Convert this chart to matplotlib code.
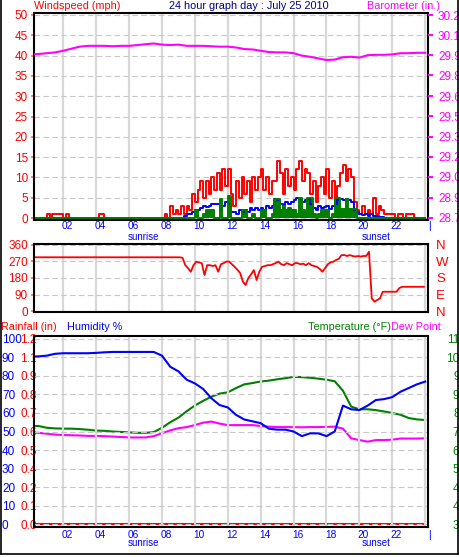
import numpy as np
import matplotlib.pyplot as plt
from matplotlib.transforms import ScaledTranslation
from matplotlib.lines import Line2D

W, H = 459, 557
plt.rcParams['font.family'] = ['Liberation Sans Narrow', 'Liberation Sans', 'DejaVu Sans']

# ---- data -------------------------------------------------------------
# 10 minute samples, 144 per day
wind_gust = [
    0, 0, 0, 0, 0, 0, 1, 0, 1, 1, 1, 1,
    0, 1, 0, 0, 0, 0, 0, 0, 0, 0, 0, 0,
    0, 1, 1, 0, 0, 0, 0, 0, 0, 0, 0, 0,
    0, 0, 0, 0, 0, 0, 0, 0, 0, 0, 0, 0,
    0, 1, 0, 3, 1, 2, 1, 3, 1, 3, 2, 6,
    4, 7, 9, 5, 9, 6, 10, 7, 11, 7, 12, 8,
    12, 6, 3, 9, 5, 10, 6, 9, 4, 10, 7, 10,
    12, 7, 10, 6, 9, 9, 14, 11, 6, 12, 8, 10,
    7, 12, 14, 9, 12, 11, 6, 9, 4, 8, 10, 6,
    12, 5, 9, 4, 8, 11, 13, 9, 12, 10, 4, 2,
    1, 3, 1, 2, 1, 5, 1, 3, 2, 1, 1, 1,
    1, 0, 1, 1, 0, 1, 1, 1, 0, 0, 0, 0,
]
wind_avg = [
    0, 0, 0, 0, 0, 0, 0, 0, 0, 0, 0, 0,
    0, 0, 0, 0, 0, 0, 0, 0, 0, 0, 0, 0,
    0, 0, 0, 0, 0, 0, 0, 0, 0, 0, 0, 0,
    0, 0, 0, 0, 0, 0, 0, 0, 0, 0, 0, 0,
    0, 0, 0, 0, 0, 0, 0, 0, 0.5, 1, 1, 1.5,
    2, 2, 2.5, 3, 2.8, 3, 3.4, 3.4, 3.4, 2, 3, 4,
    3.5, 1.5, 1.5, 1, 2, 1.5, 2, 1.5, 2.5, 2, 2.5, 2,
    2.5, 2, 3, 2.5, 3, 4.6, 4.5, 3.5, 3, 4, 3.5, 4,
    4.5, 5, 4.8, 4, 4.5, 4.8, 3.5, 2.5, 2, 3, 2.5, 2.8,
    3, 2.2, 3, 3.5, 4.5, 4.8, 4.5, 4.8, 4.5, 4, 2, 1.5,
    1, 0.8, 1, 0.5, 1, 0.5, 0.5, 0.3, 0.2, 0, 0, 0,
    0, 0, 0, 0, 0, 0, 0, 0, 0, 0, 0, 0,
]
wind_speed = [
    0, 0, 0, 0, 0, 0, 0, 0, 0, 0, 0, 0,
    0, 0, 0, 0, 0, 0, 0, 0, 0, 0, 0, 0,
    0, 0, 0, 0, 0, 0, 0, 0, 0, 0, 0, 0,
    0, 0, 0, 0, 0, 0, 0, 0, 0, 0, 0, 0,
    0, 0, 0, 0, 0, 0, 0, 0, 0, 0, 0, 0,
    2, 0, 0, 1, 2, 2, 2, 0, 0, 4.6, 0, 0,
    5.5, 0, 0, 0, 0, 2, 2, 0, 0, 1, 0, 0,
    2, 2, 0, 0, 1, 4.6, 4.6, 2, 3, 2, 2.5, 2,
    2, 1, 5, 2, 1, 5, 5, 1, 0, 1, 2, 2,
    2, 0, 1, 5, 5, 2.2, 2.2, 4.6, 2.2, 2.2, 2.2, 0,
    0, 0, 0, 0, 0, 0, 0, 0, 0, 0, 0, 0,
    0, 0, 0, 0, 0, 0, 0, 0, 0, 0, 0, 0,
]
wind_dir = [
    293, 293, 293, 293, 293, 293, 293, 293, 293, 293, 293, 293,
    293, 293, 293, 293, 293, 293, 293, 293, 293, 293, 293, 293,
    293, 293, 293, 293, 293, 293, 293, 293, 293, 293, 293, 293,
    293, 293, 293, 293, 293, 293, 293, 293, 293, 293, 293, 293,
    293, 293, 293, 293, 293, 293, 293, 290, 250, 234, 214, 250,
    269, 265, 261, 196, 250, 250, 245, 250, 214, 255, 261, 270,
    269, 255, 241, 225, 207, 160, 142, 180, 200, 223, 169, 215,
    241, 245, 250, 250, 255, 262, 269, 255, 250, 261, 255, 250,
    261, 261, 255, 258, 250, 261, 250, 245, 241, 230, 214, 234,
    255, 265, 269, 278, 285, 305, 305, 300, 305, 300, 297, 300,
    297, 300, 300, 323, 69, 51, 60, 69, 105, 105, 105, 105,
    105, 105, 124, 132, 132, 132, 132, 132, 132, 132, 132, 132,
]

# half-hour samples, 0:00 .. 24:00
barometer = [
    29.975, 29.978, 29.984, 29.990, 30.002, 30.018, 30.033, 30.039, 30.039,
    30.039, 30.036, 30.039, 30.039, 30.045, 30.051, 30.057, 30.048, 30.045,
    30.048, 30.039, 30.039, 30.039, 30.036, 30.033, 30.033, 30.027, 30.015,
    30.012, 30.002, 29.993, 29.990, 29.990, 29.984, 29.966, 29.957, 29.945,
    29.933, 29.936, 29.954, 29.957, 29.951, 29.969, 29.972, 29.972, 29.975,
    29.984, 29.984, 29.987, 29.987,
]
humidity = [
    90.5, 90.6, 91, 92, 92.3, 92.3, 92.3, 92.3, 92.5, 92.8, 93, 93, 93,
    93, 93, 93, 91, 85, 82.5, 78, 76, 73, 68, 64.3, 63, 59, 56.5, 55.5,
    54.5, 51.5, 51, 51, 50, 47.5, 49, 49, 47.5, 50, 64, 62, 61.6, 64, 67,
    67.5, 68.6, 71.5, 73.5, 75.5, 77,
]
temperature = [
    76.5, 76.5, 75.7, 75.4, 75.3, 75.3, 75.1, 74.8, 74.4, 74.3, 74.0,
    73.8, 73.6, 73.4, 73.4, 73.7, 75.7, 78.2, 80.3, 83.2, 85.8, 87.9,
    89.8, 91.2, 91.8, 93.7, 95.4, 96.0, 96.7, 97.1, 97.7, 98.2, 98.8,
    98.7, 98.4, 98.0, 97.5, 96.8, 92.5, 85.3, 84.1, 84.1, 83.7, 83.1,
    82.4, 81.6, 80.1, 79.5, 79.2,
]
dew_point = [
    73.5, 73.4, 73.0, 72.6, 72.4, 72.3, 72.2, 72.0, 72.0, 71.9, 71.7,
    71.5, 71.3, 71.3, 71.3, 71.9, 73.2, 74.5, 75.5, 76.0, 76.9, 78.0,
    78.5, 77.6, 76.9, 76.9, 76.9, 76.9, 76.5, 76.2, 76.0, 76.0, 76.0,
    75.9, 76.0, 76.0, 76.1, 76.2, 75.3, 70.9, 70.1, 69.4, 70.1, 70.1,
    70.3, 70.8, 70.8, 70.8, 70.9,
]
rainfall = [0.0] * 49

hour_ticks = [2, 4, 6, 8, 10, 12, 14, 16, 18, 20, 22, 24]
hour_labels = ['02', '04', '06', '08', '10', '12', '14', '16', '18', '20', '22', '|']
speed_ticks = [0, 5, 10, 15, 20, 25, 30, 35, 40, 45, 50]
baro_ticks = [28.75, 28.90, 29.06, 29.21, 29.36, 29.51, 29.66, 29.82, 29.97, 30.12, 30.27]
dir_ticks = [0, 90, 180, 270, 360]
dir_labels = ['N', 'E', 'S', 'W', 'N']
hum_ticks = [0, 10, 20, 30, 40, 50, 60, 70, 80, 90, 100]
rain_max = 7 / 6
rain_ticks = [rain_max * k / 10 for k in range(11)]
rain_labels = ['0.0', '0.1', '0.2', '0.4', '0.5', '0.6', '0.7', '0.8', '0.9', '1.1', '1.2']
temp_ticks = [32, 40.4, 48.8, 57.2, 65.6, 74, 82.4, 90.8, 99.2, 107.6, 116]
sunrise, sunset = 6.85, 21.0

t10 = np.arange(145) / 6.0
t30 = np.arange(49) * 0.5

RED, BLUE, GREEN, MAG = '#ff0000', '#0000ff', '#008000', '#ff00ff'
PINK = '#ff8080'
PX = 72 / 100  # points per pixel
HEAD = 7.8     # header font size
YLAB = 8.5     # y tick label size
XLAB = 7.3     # x tick label size


def box(l, t, r, b):
    return [l / W, 1 - b / H, (r - l) / W, (b - t) / H]


def ftext(x, y, s, **kw):
    fig.text(x / W, 1 - y / H, s, va='center', **kw)


def base(ax):
    ax.set_xlim(0.22, 24.17)
    ax.set_xticks(hour_ticks)
    ax.set_axisbelow(True)
    ax.grid(axis='x', color='#d8d8d8', lw=1.6, ls='-')
    ax.grid(axis='y', color='#c8c8c8', lw=0.8, ls=(0, (5, 3)))
    for s in ax.spines.values():
        s.set_linewidth(1.5)
        s.set_color('black')


def hide_spines(ax):
    for s in ax.spines.values():
        s.set_visible(False)


def shift_xlabels(ax, dx):
    off = ScaledTranslation(dx / 100, 0, fig.dpi_scale_trans)
    for lab in ax.get_xticklabels():
        lab.set_transform(lab.get_transform() + off)


fig = plt.figure(figsize=(W / 100, H / 100), dpi=100)

# ---- top: wind + barometer --------------------------------------------
ax1 = fig.add_axes(box(34, 13, 428, 220))
base(ax1)
ax1.set_ylim(-0.49, 50.49)
ax1.set_yticks(speed_ticks)
ax1.tick_params(axis='y', length=3 * PX, width=1.4, color=PINK, pad=3 * PX,
                labelcolor=RED, labelsize=YLAB)
ax1.set_xticks(hour_ticks, hour_labels)
ax1.tick_params(axis='x', length=0, pad=1.0, labelcolor=BLUE, labelsize=XLAB)
shift_xlabels(ax1, 4)

g = wind_gust + [wind_gust[-1]]
a = wind_avg + [wind_avg[-1]]
s = wind_speed + [wind_speed[-1]]
ax1.plot(t10, g, color=RED, lw=1.4, drawstyle='steps-post')
ax1.plot(t10, a, color=BLUE, lw=1.4, drawstyle='steps-post')
ax1.fill_between(t10, 0, s, step='post', color=GREEN, lw=0)
ax1.plot(t10, s, color=GREEN, lw=1.4, drawstyle='steps-post')

ax1b = ax1.twinx()
hide_spines(ax1b)
ax1b.set_ylim(28.735, 30.285)
ax1b.set_yticks(baro_ticks, [f'{v:.2f}' for v in baro_ticks])
ax1b.tick_params(axis='y', length=5 * PX, width=1.4, color=MAG, pad=5 * PX,
                 labelcolor=MAG, labelsize=YLAB)
ax1b.plot(t30, barometer, color=MAG, lw=1.5)

ftext(34, 6, 'Windspeed (mph)', color=RED, fontsize=HEAD)
ftext(249, 6, '24 hour graph day : July 25 2010', color='#000080', fontsize=HEAD, ha='center')
ftext(440, 6, 'Barometer (in.)', color=MAG, fontsize=HEAD, ha='right')

# ---- middle: wind direction -------------------------------------------
ax2 = fig.add_axes(box(34, 244, 428, 312))
base(ax2)
ax2.set_ylim(-5.45, 365.45)
ax2.set_yticks(dir_ticks)
ax2.tick_params(axis='y', length=3 * PX, width=1.4, color=PINK, pad=3 * PX,
                labelcolor=RED, labelsize=YLAB)
ax2.tick_params(axis='x', length=0, labelbottom=False)
ax2.plot(t10[:-1] + 1 / 12, wind_dir, color=RED, lw=1.3)

ax2b = ax2.twinx()
hide_spines(ax2b)
ax2b.set_ylim(-5.45, 365.45)
ax2b.set_yticks(dir_ticks, dir_labels)
ax2b.tick_params(axis='y', length=0, pad=8 * PX, labelcolor=RED, labelsize=9.5)

# ---- bottom: humidity / temperature / rain ------------------------------
ax3 = fig.add_axes(box(34, 336, 428, 527))
base(ax3)
ax3.set_ylim(-1.62, 101.62)
ax3.set_yticks(hum_ticks)
ax3.tick_params(axis='y', length=0, pad=32 * PX, labelcolor=BLUE, labelsize=YLAB)
for lab in ax3.get_yticklabels():
    lab.set_ha('left')
ax3.set_xticks(hour_ticks, hour_labels)
ax3.tick_params(axis='x', length=0, pad=2.0, labelcolor=BLUE, labelsize=XLAB)
shift_xlabels(ax3, 4)

axr = ax3.twinx()
hide_spines(axr)
axr.set_ylim(-0.0189, rain_max + 0.0189)
axr.yaxis.tick_left()
axr.set_yticks(rain_ticks, rain_labels)
axr.tick_params(axis='y', length=0, pad=14 * PX, labelcolor=RED, labelsize=YLAB)
for lab in axr.get_yticklabels():
    lab.set_ha('left')
axr.plot(t30, rainfall, color=RED, lw=1.5)

axt = ax3.twinx()
hide_spines(axt)
axt.set_ylim(30.64, 117.36)
axt.set_yticks(temp_ticks, [f'{v:.0f}' for v in temp_ticks])
axt.tick_params(axis='y', length=0, pad=38 * PX, labelcolor=GREEN, labelsize=YLAB)
for lab in axt.get_yticklabels():
    lab.set_ha('right')
axt.plot(t30, temperature, color=GREEN, lw=1.5)
axt.plot(t30, dew_point, color=MAG, lw=1.5)
ax3.plot(t30, humidity, color=BLUE, lw=1.5)
ax3.set_zorder(axt.get_zorder() + 1)
ax3.patch.set_visible(False)

ftext(1, 327, 'Rainfall (in)', color=RED, fontsize=HEAD)
ftext(67, 327, 'Humidity %', color=BLUE, fontsize=HEAD)
ftext(391, 327, 'Temperature (°F)', color=GREEN, fontsize=HEAD, ha='right')
ftext(391, 327, 'Dew Point', color=MAG, fontsize=HEAD)

# sunrise / sunset under both time axes
for ax, ypx in ((ax1, 237), (ax3, 543)):
    for hr, name in ((sunrise, 'sunrise'), (sunset, 'sunset')):
        xf = ax.transData.transform((hr, 0))[0] / fig.dpi / (W / 100)
        fig.text(xf, 1 - ypx / H, name, color=BLUE, fontsize=7, ha='center', va='center')

# outer frame: left, bottom and right edges only
for xs, ys in (([0.8, 0.8], [0, 554]), ([0.8, 458.2], [554, 554]), ([458.2, 458.2], [0, 554])):
    fig.add_artist(Line2D([x / W for x in xs], [1 - y / H for y in ys],
                          transform=fig.transFigure, color='black', lw=1.2))

fig.savefig('out.png', dpi=100)
